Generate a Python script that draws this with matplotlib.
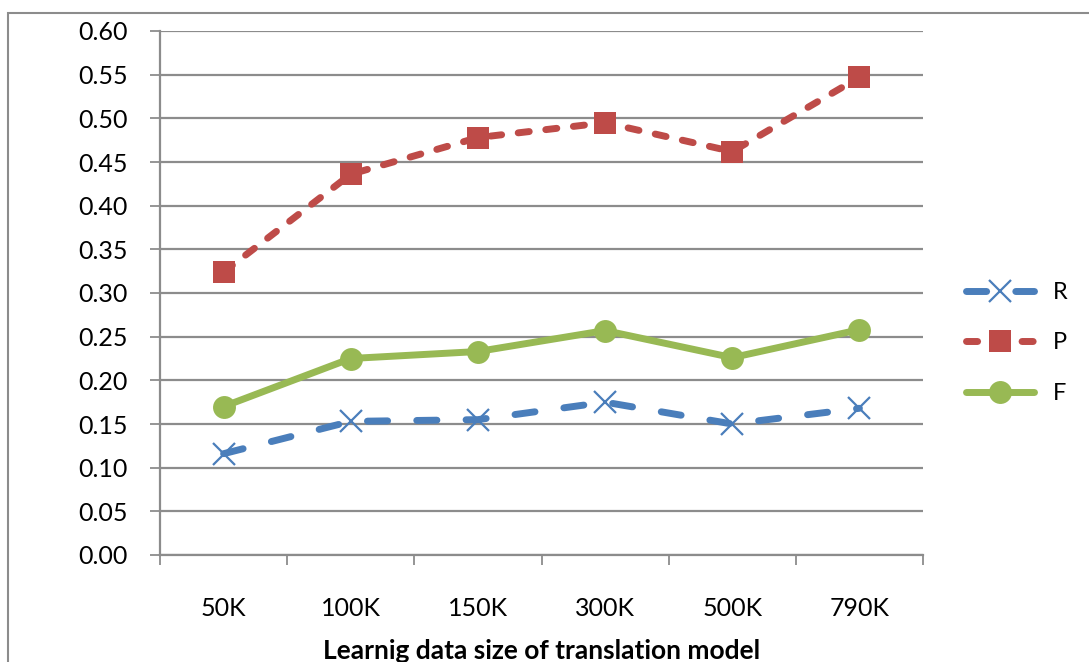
import matplotlib
matplotlib.use("Agg")
import matplotlib.pyplot as plt
from matplotlib.patches import Rectangle

categories = ["50K", "100K", "150K", "300K", "500K", "790K"]
r_values = [0.116, 0.153, 0.155, 0.175, 0.150, 0.168]
p_values = [0.324, 0.436, 0.478, 0.495, 0.462, 0.547]
f_values = [0.170, 0.225, 0.233, 0.257, 0.226, 0.258]
y_ticks = [0.00, 0.05, 0.10, 0.15, 0.20, 0.25, 0.30, 0.35, 0.40, 0.45, 0.50, 0.55, 0.60]

plt.rcParams['font.family'] = ['Lato', 'DejaVu Sans']

W, H = 1089, 662
fig = plt.figure(figsize=(W / 100, H / 100), dpi=100)
ax = fig.add_axes([160 / W, 1 - 555 / H, (923 - 160) / W, (555 - 31) / H])

grid_c = "#8c8c8c"
x = list(range(len(categories)))

ax.plot(x, r_values, color="#4a7ebb", lw=5, dashes=(2.9, 4.2), dash_capstyle="round",
        marker="x", markersize=16.5, markeredgewidth=1.6, label="R", zorder=3)
ax.plot(x, p_values, color="#be4b48", lw=5, dashes=(1.6, 2.4), dash_capstyle="round",
        marker="s", markersize=16.5, markeredgewidth=0, label="P", zorder=3)
ax.plot(x, f_values, color="#98b954", lw=5, solid_capstyle="round",
        marker="o", markersize=16.5, markeredgewidth=0, label="F", zorder=3)

ax.set_xlim(-0.5, len(categories) - 0.5)
ax.set_ylim(0, 0.60)
ax.set_yticks(y_ticks)
ax.set_yticklabels([f"{v:.2f}" for v in y_ticks], fontsize=18)
ax.set_xticks(x)
ax.set_xticklabels(categories, fontsize=18)
ax.set_xticks([i - 0.5 for i in range(len(categories) + 1)], minor=True)
ax.tick_params(axis="x", which="major", length=0, pad=30)
ax.tick_params(axis="x", which="minor", length=7, color=grid_c, width=1.3)
ax.tick_params(axis="y", length=7, color=grid_c, width=1.3, pad=16)

ax.yaxis.grid(True, color=grid_c, lw=1.6)
ax.set_axisbelow(True)
for s in ["top", "right"]:
    ax.spines[s].set_visible(False)
for s in ["left", "bottom"]:
    ax.spines[s].set_color(grid_c)
    ax.spines[s].set_linewidth(1.6)

ax.set_xlabel("Learnig data size of translation model", fontsize=19, fontweight="bold",
              labelpad=14)

leg = ax.legend(loc="center left", bbox_to_anchor=(1.029, 0.405), frameon=False,
                fontsize=17, handlelength=2.85, labelspacing=1.25, handletextpad=0.8)

# outer frame around the chart area
fig.patches.append(Rectangle((7.5 / W, -0.1), 1.2, 1 - 13 / H + 0.1, transform=fig.transFigure,
                             fill=False, edgecolor="#8c8c8c", lw=1.5))

fig.savefig("out.png", dpi=100)
